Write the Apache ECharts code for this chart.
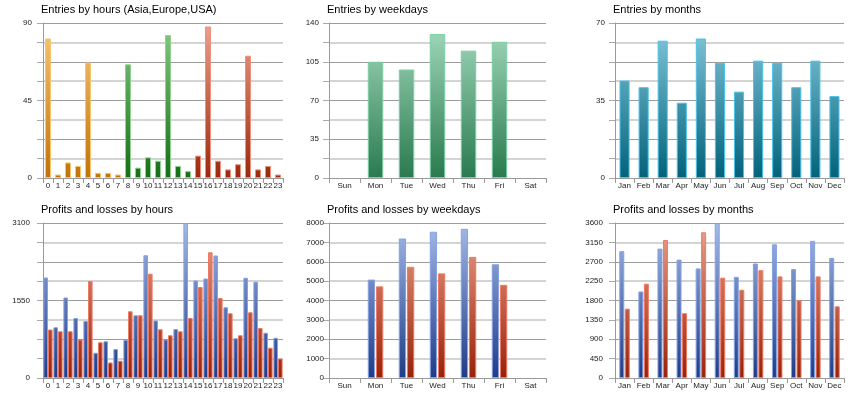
<!DOCTYPE html>
<html>
<head>
<meta charset="utf-8">
<script src="https://cdn.jsdelivr.net/npm/echarts@6/dist/echarts.min.js"></script>
<style>
    html, body { margin: 0; padding: 0; background: #fff; }
    #main { width: 860px; height: 400px; }
</style>
</head>
<body>
<div id="main"></div>
<script>
    // categories
    const hours = ['0','1','2','3','4','5','6','7','8','9','10','11','12','13','14','15','16','17','18','19','20','21','22','23'];
    const weekdays = ['Sun','Mon','Tue','Wed','Thu','Fri','Sat'];
    const months = ['Jan','Feb','Mar','Apr','May','Jun','Jul','Aug','Sep','Oct','Nov','Dec'];

    // entries
    const hourEntries = [81, 2, 9, 7, 67, 3, 3, 2, 66, 6, 12, 10, 83, 7, 4, 13, 88, 10, 5, 8, 71, 5, 7, 2];
    const hourSession = ['Asia','Asia','Asia','Asia','Asia','Asia','Asia','Asia',
        'Europe','Europe','Europe','Europe','Europe','Europe','Europe',
        'USA','USA','USA','USA','USA','USA','USA','USA','USA'];
    const weekdayEntries = [null, 105, 98, 130, 115, 123, null];
    const monthEntries = [44, 41, 62, 34, 63, 52, 39, 53, 52, 41, 53, 37];

    // profits / losses
    const hourProfits = [2010, 1015, 1610, 1200, 1140, 505, 735, 580, 765, 1255, 2455, 1150, 770, 980, 3100, 1950, 1990, 2450, 1415, 795, 2005, 1925, 905, 805];
    const hourLosses = [970, 935, 935, 770, 1940, 715, 310, 345, 1335, 1255, 2085, 975, 855, 935, 1200, 1820, 2515, 1600, 1295, 855, 1315, 1000, 605, 390];
    const weekdayProfits = [null, 5080, 7200, 7550, 7700, 5870, null];
    const weekdayLosses = [null, 4730, 5740, 5400, 6250, 4810, null];
    const monthProfits = [2945, 2010, 3005, 2750, 2545, 3600, 2350, 2660, 3105, 2530, 3185, 2790];
    const monthLosses = [1610, 2190, 3205, 1505, 3385, 2330, 2050, 2505, 2360, 1805, 2360, 1665];

    // y axis maximums and label steps
    const yMax = [90, 140, 70, 3100, 8000, 3600];
    const yLabelStep = [45, 35, 35, 1550, 1000, 450];

    const titles = ['Entries by hours (Asia,Europe,USA)', 'Entries by weekdays', 'Entries by months',
        'Profits and losses by hours', 'Profits and losses by weekdays', 'Profits and losses by months'];

    const cols = [{left: 43, width: 240}, {left: 329, width: 217}, {left: 615, width: 229}];
    const rows = [{top: 23, height: 155}, {top: 223, height: 155}];
    const labelMargin = [11, 10, 10, 13, 5, 12];

    const chart = echarts.init(document.getElementById('main'));

    function gridBox(i) {
        return Object.assign({}, cols[i % 3], rows[Math.floor(i / 3)]);
    }

    //竖直渐变（按绘图区全局坐标）
    function grad(i, top, bottom) {
        const b = gridBox(i);
        return new echarts.graphic.LinearGradient(0, b.top, 0, b.top + b.height, [
            {offset: 0, color: top},
            {offset: 1, color: bottom}
        ], true);
    }

    const palette = {
        Asia:   {top: '#f8c878', bottom: '#c07308', border: '#fbc46c'},
        Europe: {top: '#86cc86', bottom: '#166e16', border: '#8ed28e'},
        USA:    {top: '#eda08c', bottom: '#9c280c', border: '#ec927c'},
        week:   {top: '#a4dabe', bottom: '#2a7a4e', border: '#7ccfa4'},
        month:  {top: '#88c9dd', bottom: '#02627a', border: '#48c4e6'},
        profit: {top: '#a4bae8', bottom: '#1e3c88', border: '#86a2e2'},
        loss:   {top: '#eea28c', bottom: '#982208', border: '#ee7a64'}
    };

    function style(i, p) {
        return {color: grad(i, p.top, p.bottom), borderColor: p.border, borderWidth: 1};
    }

    const grids = [], xAxes = [], yAxes = [], titleList = [];
    for (let i = 0; i < 6; i++) {
        const b = gridBox(i);
        grids.push({left: b.left, top: b.top, width: b.width, height: b.height, containLabel: false});
        titleList.push({
            text: titles[i], left: b.left - 2, top: b.top - 19, padding: 0,
            textStyle: {fontFamily: 'Liberation Sans', fontSize: 11, fontWeight: 'normal', color: '#000'}
        });
        const cats = (i % 3 === 0) ? hours : (i % 3 === 1 ? weekdays : months);
        xAxes.push({
            type: 'category', gridIndex: i, data: cats,
            axisLine: {lineStyle: {color: '#9a9a9a'}},
            axisTick: {show: true, length: 5, alignWithLabel: false, lineStyle: {color: '#9a9a9a'}},
            axisLabel: {interval: 0, margin: 4, fontSize: 8, color: '#222', fontFamily: 'Liberation Sans'}
        });
        const step = yLabelStep[i];
        // dark lines every quarter, light lines in between
        yAxes.push({
            type: 'value', gridIndex: i, position: 'left', min: 0, max: yMax[i], interval: yMax[i] / 4,
            axisLine: {show: true, lineStyle: {color: '#9a9a9a'}},
            axisTick: {show: false}, axisLabel: {show: false},
            splitLine: {show: true, lineStyle: {color: '#9c9c9c', width: 1}},
            minorTick: {show: false, splitNumber: 2},
            minorSplitLine: {show: true, lineStyle: {color: '#d4d4d4', width: 2}}
        });
        // labels and ticks
        yAxes.push({
            type: 'value', gridIndex: i, position: 'left', offset: 0, min: 0, max: yMax[i], interval: yMax[i] / 8,
            axisLine: {show: false, onZero: false}, splitLine: {show: false},
            axisTick: {show: true, length: 6, lineStyle: {color: '#aaaaaa'}},
            axisLabel: {
                margin: labelMargin[i], fontSize: 8, color: '#222', fontFamily: 'Liberation Sans',
                formatter: function (v) {
                    return Math.abs(v / step - Math.round(v / step)) < 1e-6 ? String(v) : '';
                }
            }
        });
    }

    const series = [];

    series.push({
        type: 'bar', name: 'Entries', xAxisIndex: 0, yAxisIndex: 0, barCategoryGap: '40%',
        data: hourEntries.map((v, k) => ({value: v, itemStyle: style(0, palette[hourSession[k]])}))
    });
    series.push({
        type: 'bar', name: 'Entries', xAxisIndex: 1, yAxisIndex: 2, barCategoryGap: '50%',
        itemStyle: style(1, palette.week), data: weekdayEntries
    });
    series.push({
        type: 'bar', name: 'Entries', xAxisIndex: 2, yAxisIndex: 4, barCategoryGap: '47%',
        itemStyle: style(2, palette.month), data: monthEntries
    });

    const plSets = [
        {idx: 3, profits: hourProfits, losses: hourLosses, gap: '0%', cat: '8%'},
        {idx: 4, profits: weekdayProfits, losses: weekdayLosses, gap: '12%', cat: '50%'},
        {idx: 5, profits: monthProfits, losses: monthLosses, gap: '10%', cat: '45%'}
    ];
    plSets.forEach(s => {
        series.push({
            type: 'bar', name: 'Profits', xAxisIndex: s.idx, yAxisIndex: s.idx * 2,
            barGap: s.gap, barCategoryGap: s.cat, itemStyle: style(s.idx, palette.profit), data: s.profits
        });
        series.push({
            type: 'bar', name: 'Losses', xAxisIndex: s.idx, yAxisIndex: s.idx * 2,
            barGap: s.gap, barCategoryGap: s.cat, itemStyle: style(s.idx, palette.loss), data: s.losses
        });
    });

    chart.setOption({
        animation: false,
        backgroundColor: '#fff',
        title: titleList,
        grid: grids,
        xAxis: xAxes,
        yAxis: yAxes,
        series: series
    });
</script>
</body>
</html>
